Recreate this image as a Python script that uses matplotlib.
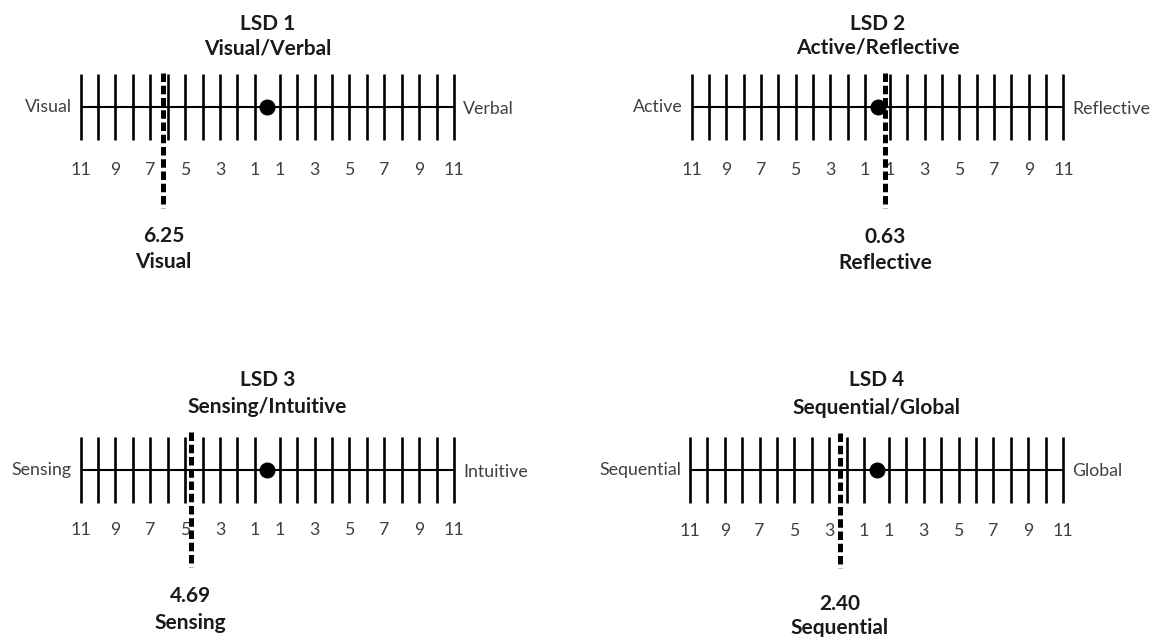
import matplotlib
matplotlib.use("Agg")
import matplotlib.pyplot as plt

plt.rcParams['font.family'] = ['Lato', 'DejaVu Sans']

# ---- data ----
titles = ["LSD 1", "LSD 2", "LSD 3", "LSD 4"]
dimensions = ["Visual/Verbal", "Active/Reflective", "Sensing/Intuitive", "Sequential/Global"]
left_poles = ["Visual", "Active", "Sensing", "Sequential"]
right_poles = ["Verbal", "Reflective", "Intuitive", "Global"]
scores = [6.25, 0.63, 4.69, 2.40]
score_sides = [-1, 1, -1, -1]          # -1 = left pole, +1 = right pole
score_labels = ["Visual", "Reflective", "Sensing", "Sequential"]
tick_values = list(range(1, 12))        # 1..11 on each side
label_values = [1, 3, 5, 7, 9, 11]      # numbered ticks
tick_labels = [str(v) for v in label_values]

# ---- layout (pixels) ----
W, H = 1163, 637
GAP = 0.72   # half of the central gap, in tick spacings
panel_cx = [267.3, 877.5, 267.3, 876.5]
panel_ly = [107.3, 107.0, 470.0, 469.5]
panel_s = [17.41, 17.35, 17.41, 17.4]
title_dy = [(83, 59), (83, 59), (90, 63), (90, 62)]
value_dy = [(-129, -155), (-130, -156), (-126, -153), (-135, -158)]
num_dy = [-63, -63, -60, -61]
dash_span = [(34, -101), (34, -101), (38, -97), (37, -98)]


def pos(v, side):
    if v >= 1:
        return side * (v - 1 + GAP)
    return side * v * GAP


fig = plt.figure(figsize=(W / 100, H / 100), dpi=100)
fig.patch.set_facecolor("white")

txt_col = "#404040"
bold_col = "#1a1a1a"
fs_reg = 12.8
fs_bold = 15

for i in range(4):
    cx, ly, s = panel_cx[i], panel_ly[i], panel_s[i]
    ax = fig.add_axes([0, 0, 1, 1])
    ax.set_xlim(-cx / s, (W - cx) / s)
    ax.set_ylim(ly - H, ly)
    ax.axis("off")

    ends = [pos(11, -1), pos(11, 1)]
    ax.plot(ends, [0, 0], color="black", lw=1.5, solid_capstyle="butt", zorder=2)
    for side in (-1, 1):
        xs = [pos(v, side) for v in tick_values]
        ax.vlines(xs, -33, 33, color="black", lw=1.9, zorder=2)
        for v, lab in zip(label_values, tick_labels):
            ax.text(pos(v, side), num_dy[i], lab, ha="center", va="center",
                    fontsize=fs_reg, color=txt_col)

    ax.plot([0], [0], "o", color="black", markersize=10.5, zorder=4)

    xv = pos(scores[i], score_sides[i])
    ax.plot([xv, xv], list(dash_span[i]), color="black", lw=3.6,
            dashes=(1.7, 0.75), solid_capstyle="butt", dash_capstyle="butt", zorder=5)

    ax.text(ends[0] - 9 / s, 0, left_poles[i], ha="right", va="center",
            fontsize=fs_reg, color=txt_col)
    ax.text(ends[1] + 9 / s, -2, right_poles[i], ha="left", va="center",
            fontsize=fs_reg, color=txt_col)

    ax.text(0, title_dy[i][0], titles[i], ha="center", va="center",
            fontsize=fs_bold, fontweight="bold", color=bold_col)
    ax.text(0, title_dy[i][1], dimensions[i], ha="center", va="center",
            fontsize=fs_bold, fontweight="bold", color=bold_col)

    ax.text(xv, value_dy[i][0], f"{scores[i]:.2f}", ha="center", va="center",
            fontsize=fs_bold, fontweight="bold", color=bold_col)
    ax.text(xv, value_dy[i][1], score_labels[i], ha="center", va="center",
            fontsize=fs_bold, fontweight="bold", color=bold_col)

fig.savefig("out.png", dpi=100, facecolor="white")
